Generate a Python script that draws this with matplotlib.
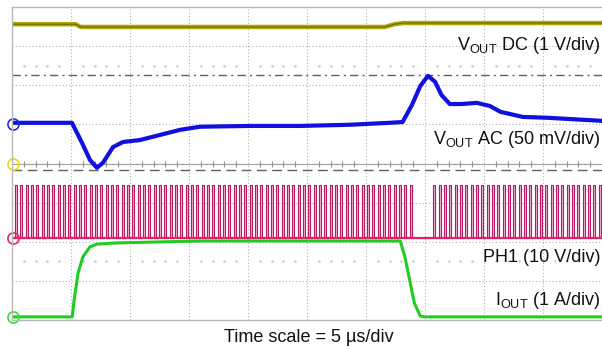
import numpy as np
import matplotlib.pyplot as plt

plt.rcParams['font.family'] = ['Liberation Sans', 'DejaVu Sans']
plt.rcParams['mathtext.fontset'] = 'custom'
plt.rcParams['mathtext.rm'] = 'Liberation Sans'

# time in us (5 us/div, 10 div), level in divisions (8 div)
vdc_t = [0, 5.4, 5.8, 31.6, 32.4, 33.2, 50]
vdc_y = [7.56, 7.56, 7.49, 7.49, 7.56, 7.59, 7.59]

vac_t = [0, 5.08, 5.93, 6.61, 7.20, 7.71, 8.56, 9.41, 10.85, 12.54, 14.24, 15.93, 20.17,
         24.4, 28.6, 32.0, 33.1, 33.9, 34.6, 35.25, 35.85, 36.4, 37.1, 38.1, 39.4, 40.5,
         41.4, 43.3, 45.3, 50]
vac_y = [5.04, 5.04, 4.53, 4.09, 3.89, 4.02, 4.42, 4.55, 4.60, 4.73, 4.86, 4.94, 4.96,
         4.96, 4.99, 5.04, 5.06, 5.50, 5.98, 6.24, 6.09, 5.75, 5.52, 5.52, 5.55, 5.47,
         5.32, 5.19, 5.17, 5.09]

iout_t = [0, 5.1, 5.3, 5.6, 6.0, 6.6, 7.2, 8.9, 11.7, 16, 32.9, 33.3, 33.7, 34.1, 34.6, 35.0, 50]
iout_y = [0.08, 0.08, 0.59, 1.20, 1.61, 1.87, 1.94, 1.97, 1.99, 2.02, 2.02, 1.61, 1.02,
          0.43, 0.10, 0.08, 0.08]

ph1_low, ph1_high = 2.10, 3.45
ph1_period = 0.452
ph1_duty = 0.36
ph1_bursts = [(0.25, 34.0), (35.7, 50.0)]

dash_dot_level = 6.27
dashed_level = 3.84

labels = [r'V$_{\mathrm{OUT}}$ DC (1 V/div)', r'V$_{\mathrm{OUT}}$ AC (50 mV/div)',
          'PH1 (10 V/div)', r'I$_{\mathrm{OUT}}$ (1 A/div)']
label_levels = [7.02, 4.62, 1.60, 0.50]
markers = [(5.0, '#2030e0'), (4.0, '#e8e000'), (2.1, '#e8206a'), (0.08, '#30e030')]

fig = plt.figure(figsize=(6.02, 3.49), dpi=100)
ax = fig.add_axes([12 / 602, 29 / 349, 590 / 602, 313 / 349])
ax.set_xlim(0, 50)
ax.set_ylim(0, 8)
ax.set_xticks([])
ax.set_yticks([])
for s in ['top', 'left', 'bottom']:
    ax.spines[s].set_color('#b8b8b8')
    ax.spines[s].set_linewidth(1)
ax.spines['right'].set_visible(False)

# graticule
for gx in range(5, 50, 5):
    ax.axvline(gx, color='#b0b0b0', lw=0.8, ls=(0, (1, 2)))
for gy in [1, 2, 3, 5, 6, 7]:
    ax.axhline(gy, color='#b0b0b0', lw=0.8, ls=(0, (1, 2)))
ax.axhline(4, color='#a0a0a0', lw=0.8)
minor = [m for m in range(1, 50) if m % 5 != 0]
ax.plot(minor, [4] * len(minor), ls='none', marker='|', ms=4, color='#909090', mew=0.8)
ax.plot(minor, [6.5] * len(minor), ls='none', marker='s', ms=0.7, color='#c8c8c8')
ax.plot(minor, [1.5] * len(minor), ls='none', marker='s', ms=0.7, color='#c8c8c8')

ax.axhline(dash_dot_level, color='#606060', lw=1, ls=(0, (6, 3, 1.5, 3)))
ax.axhline(dashed_level, color='#606060', lw=1, ls=(0, (7, 4)))

# PH1 switching
ph_t, ph_y = [0], [ph1_low]
for t0, t1 in ph1_bursts:
    for ts in np.arange(t0, t1, ph1_period):
        ph_t += [ts, ts, ts + ph1_duty * ph1_period, ts + ph1_duty * ph1_period]
        ph_y += [ph1_low, ph1_high, ph1_high, ph1_low]
ph_t.append(50)
ph_y.append(ph1_low)
ax.fill_between(ph_t, ph1_low, ph_y, color='#eeb9d1', lw=0)
ax.plot(ph_t, ph_y, color='#b8185f', lw=0.8)
ax.axhline(ph1_low, color='#e0206a', lw=1.6)

ax.plot(iout_t, iout_y, color='#20cc20', lw=2.2)
ax.plot(vac_t, vac_y, color='#1010e0', lw=3.0)
ax.plot(vdc_t, vdc_y, color='#b0a800', lw=3.2)
ax.plot(vdc_t, vdc_y, color='#6a6400', lw=0.8)

for lvl, c in markers:
    ax.plot([0.05], [lvl], marker='o', ms=8, mfc='none', mec=c, mew=1.2, clip_on=False)

for txt, lvl in zip(labels, label_levels):
    ax.text(49.85, lvl, txt, ha='right', va='center', fontsize=13, color='#111111')

fig.text(309 / 602, 1 - 337 / 349, 'Time scale = 5 µs/div', ha='center', va='center',
         fontsize=13, color='#111111')

fig.savefig('out.png', dpi=100)
